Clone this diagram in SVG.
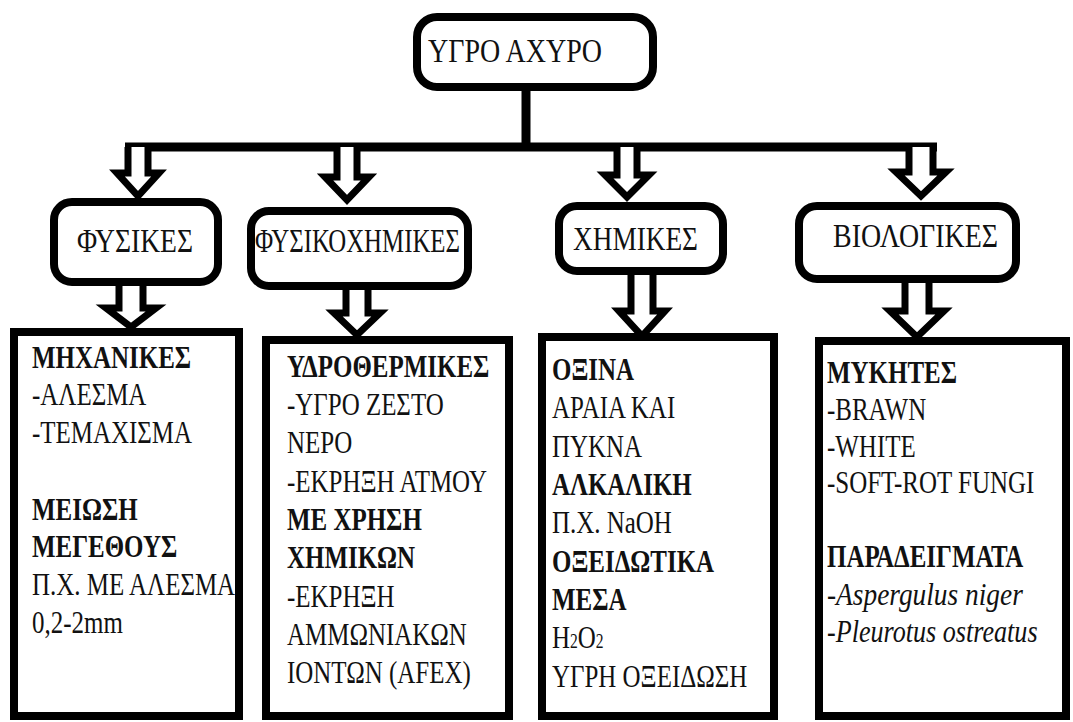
<svg xmlns="http://www.w3.org/2000/svg" width="1073" height="722" viewBox="0 0 1073 722">
<style>
.box{fill:#fff;stroke:#000;stroke-width:8}
.rbox{fill:#fff;stroke:#000;stroke-width:8}
.arr{fill:#fff;stroke:#000;stroke-width:7;stroke-linejoin:miter;stroke-miterlimit:10}
.ln{fill:none;stroke:#000;stroke-width:9}
text{font-family:"Liberation Serif","Times New Roman",serif;fill:#111}
.lbl{font-size:34px}
.t{font-size:32px}
.b{font-weight:bold}
.i{font-style:italic}
</style>
<rect width="1073" height="722" fill="#fff"/>
<g id="connectors">
<path class="ln" d="M526,91 V147"/>
<path class="ln" d="M125,147 H937"/>
<path class="arr" d="M128,147 V173 H117 L138,196 L159,173 H148 V147"/>
<path class="arr" d="M337,147 V177 H325 L347,200 L369,177 H357 V147"/>
<path class="arr" d="M617,147 V175 H605 L627,197 L649,175 H637 V147"/>
<path class="arr" d="M909,147 V172 H896 L921,196 L946,172 H933 V147"/>
<path class="arr" d="M119,283 V308 H106 L131,327 L156,308 H143 V283"/>
<path class="arr" d="M346,288 V313 H334 L357,335 L380,313 H368 V288"/>
<path class="arr" d="M631,273 V311 H619 L642,336 L665,311 H653 V273"/>
<path class="arr" d="M905,281 V311 H890 L917,337 L944,311 H929 V281"/>
</g>
<g id="root">
<rect class="rbox" x="417" y="17" width="236" height="70" rx="20"/>
<text class="lbl" x="428" y="62" font-size="37" textLength="174" lengthAdjust="spacingAndGlyphs">ΥΓΡΟ ΑΧΥΡΟ</text>
</g>
<g id="fysikes">
<rect class="rbox" x="54" y="202" width="164" height="80" rx="18"/>
<text class="lbl" x="77" y="252" textLength="116" lengthAdjust="spacingAndGlyphs">ΦΥΣΙΚΕΣ</text>
</g>
<g id="fysikoximikes">
<rect class="rbox" x="251" y="211" width="217" height="75" rx="18"/>
<text class="lbl" x="255" y="252" textLength="205" lengthAdjust="spacingAndGlyphs">ΦΥΣΙΚΟΧΗΜΙΚΕΣ</text>
</g>
<g id="ximikes">
<rect class="rbox" x="559" y="206" width="164" height="65" rx="18"/>
<text class="lbl" x="573" y="250" textLength="125" lengthAdjust="spacingAndGlyphs">ΧΗΜΙΚΕΣ</text>
</g>
<g id="viologikes">
<rect class="rbox" x="799" y="206" width="217" height="73" rx="18"/>
<text class="lbl" x="833" y="247" textLength="165" lengthAdjust="spacingAndGlyphs">ΒΙΟΛΟΓΙΚΕΣ</text>
</g>
<g id="box-fysikes">
<rect class="box" x="14" y="332" width="225" height="384"/>
<g transform="translate(32,0) scale(0.78,1)">
<text class="t b" x="0" y="368">ΜΗΧΑΝΙΚΕΣ</text>
<text class="t" x="0" y="405">-ΑΛΕΣΜΑ</text>
<text class="t" x="0" y="443">-ΤΕΜΑΧΙΣΜΑ</text>
<text class="t b" x="0" y="520">ΜΕΙΩΣΗ</text>
<text class="t b" x="0" y="557">ΜΕΓΕΘΟΥΣ</text>
<text class="t" x="0" y="595">Π.Χ. ΜΕ ΑΛΕΣΜΑ</text>
<text class="t" x="0" y="633">0,2-2mm</text>
</g>
</g>
<g id="box-fysikoximikes">
<rect class="box" x="266" y="340" width="243" height="376"/>
<g transform="translate(287,0) scale(0.78,1)">
<text class="t b" x="0" y="377">ΥΔΡΟΘΕΡΜΙΚΕΣ</text>
<text class="t" x="0" y="415">-ΥΓΡΟ ΖΕΣΤΟ</text>
<text class="t" x="0" y="453">ΝΕΡΟ</text>
<text class="t" x="0" y="492">-ΕΚΡΗΞΗ ΑΤΜΟΥ</text>
<text class="t b" x="0" y="530">ΜΕ ΧΡΗΣΗ</text>
<text class="t b" x="0" y="568">ΧΗΜΙΚΩΝ</text>
<text class="t" x="0" y="607">-ΕΚΡΗΞΗ</text>
<text class="t" x="0" y="645">ΑΜΜΩΝΙΑΚΩΝ</text>
<text class="t" x="0" y="683">ΙΟΝΤΩΝ (AFEX)</text>
</g>
</g>
<g id="box-ximikes">
<rect class="box" x="542" y="337" width="232" height="379"/>
<g transform="translate(552,0) scale(0.78,1)">
<text class="t b" x="0" y="380">ΟΞΙΝΑ</text>
<text class="t" x="0" y="418">ΑΡΑΙΑ ΚΑΙ</text>
<text class="t" x="0" y="457">ΠΥΚΝΑ</text>
<text class="t b" x="0" y="495">ΑΛΚΑΛΙΚΗ</text>
<text class="t" x="0" y="533">Π.Χ. NaOH</text>
<text class="t b" x="0" y="572">ΟΞΕΙΔΩΤΙΚΑ</text>
<text class="t b" x="0" y="610">ΜΕΣΑ</text>
<text class="t" x="0" y="648">H<tspan font-size="20">2</tspan>O<tspan font-size="20">2</tspan></text>
<text class="t" x="0" y="687">ΥΓΡΗ ΟΞΕΙΔΩΣΗ</text>
</g>
</g>
<g id="box-viologikes">
<rect class="box" x="819" y="341" width="247" height="375"/>
<g transform="translate(827,0) scale(0.78,1)">
<text class="t b" x="0" y="383">ΜΥΚΗΤΕΣ</text>
<text class="t" x="0" y="420">-BRAWN</text>
<text class="t" x="0" y="457">-WHITE</text>
<text class="t" x="0" y="493">-SOFT-ROT FUNGI</text>
<text class="t b" x="0" y="567">ΠΑΡΑΔΕΙΓΜΑΤΑ</text>
<text class="t i" x="0" y="605" textLength="251" lengthAdjust="spacingAndGlyphs">-Aspergulus niger</text>
<text class="t i" x="0" y="642" textLength="270" lengthAdjust="spacingAndGlyphs">-Pleurotus ostreatus</text>
</g>
</g>
</svg>
